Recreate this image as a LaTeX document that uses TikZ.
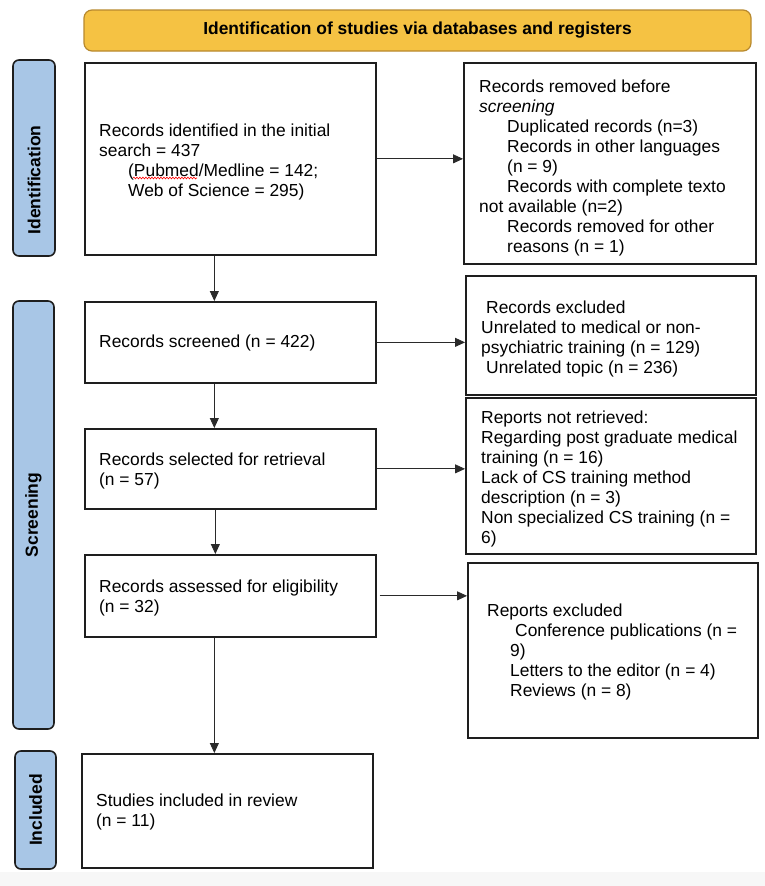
\documentclass[tikz,border=0pt]{standalone}
\usepackage{graphicx}
\usepackage{fontspec}
\setmainfont{Liberation Sans}
\usetikzlibrary{arrows.meta,decorations.pathmorphing}
\definecolor{hdrfill}{HTML}{F5C243}
\definecolor{hdrdraw}{HTML}{B8892E}
\definecolor{sidefill}{HTML}{A8C6E6}
\definecolor{arrowc}{HTML}{2A2A2A}
\definecolor{boxc}{HTML}{1E1E1E}
\tikzset{
  boxnode/.style={draw=boxc, line width=1.7pt, fill=white, inner sep=0pt, anchor=north west},
  sidelabel/.style={draw=boxc, line width=1.6pt, fill=sidefill, rounded corners=6pt, rotate=90, inner sep=0pt,
    font=\bfseries\fontsize{17.5}{20}\selectfont},
  header/.style={draw=hdrdraw, line width=1.2pt, fill=hdrfill, rounded corners=8pt, inner sep=0pt},
  txt/.style={anchor=north west, inner sep=0pt, align=left, font=\fontsize{17.4}{20}\selectfont},
  flow/.style={draw=arrowc, line width=0.8pt, -{Triangle[length=10pt,width=9pt]}}
}
\begin{document}
\begin{tikzpicture}[x=1pt,y=-1pt]
\useasboundingbox (0,0) rectangle (765,886);
\fill[white] (0,0) rectangle (765,886);
\fill[gray!6] (0,872) rectangle (765,886);

% header
\node[header, minimum width=667pt, minimum height=41pt] (hdr) at (417.5,30.5)
  {\bfseries\fontsize{17.4}{20}\selectfont Identification of studies via databases and registers};

% side labels
\node[sidelabel, minimum width=196pt, minimum height=42pt] (lid) at (34,158) {Identification\hspace*{44pt}};
\node[sidelabel, minimum width=428pt, minimum height=41pt] (lsc) at (33.5,515) {Screening};
\node[sidelabel, minimum width=118pt, minimum height=41pt] (lin) at (35.5,810) {Included};

% left boxes
\node[boxnode, minimum width=291pt, minimum height=192pt] (b1) at (84,62) {};
\node[boxnode, minimum width=291pt, minimum height=81pt] (b2) at (84,301) {};
\node[boxnode, minimum width=291pt, minimum height=80pt] (b3) at (84,428) {};
\node[boxnode, minimum width=291pt, minimum height=82pt] (b4) at (84,554) {};
\node[boxnode, minimum width=291pt, minimum height=114pt] (b5) at (81,753) {};

% right boxes
\node[boxnode, minimum width=292pt, minimum height=201pt] (r1) at (463,62) {};
\node[boxnode, minimum width=290pt, minimum height=119pt] (r2) at (465,275) {};
\node[boxnode, minimum width=290pt, minimum height=156pt] (r3) at (465,397) {};
\node[boxnode, minimum width=290pt, minimum height=175pt] (r4) at (467,562) {};

% texts
\node[txt] (t1) at (99,122.2) {\strut Records identified in the initial\\search = 437\\\hspace*{29pt}(Pubmed/Medline = 142;\\\hspace*{29pt}Web of Science = 295)};
\draw[red, line width=0.6pt, decorate, decoration={snake, amplitude=0.9pt, segment length=3pt}] (133,178) -- (197,178);
\node[txt] (t2) at (99,333.2) {\strut Records screened (n = 422)};
\node[txt] (t3) at (99,451.2) {\strut Records selected for retrieval\\(n = 57)};
\node[txt] (t4) at (99,578.2) {\strut Records assessed for eligibility\\(n = 32)};
\node[txt] (t5) at (96,792.2) {\strut Studies included in review\\(n = 11)};

\node[txt] (s1) at (479,78.2) {\strut Records removed before\\\textit{screening}\\
\hspace*{28pt}Duplicated records (n=3)\\
\hspace*{28pt}Records in other languages\\
\hspace*{28pt}(n = 9)\\
\hspace*{28pt}Records with complete texto\\
not available (n=2)\\
\hspace*{28pt}Records removed for other\\
\hspace*{28pt}reasons (n = 1)};
\node[txt] (s2) at (481,299.2) {\strut\hspace*{5pt}Records excluded\\Unrelated to medical or non-\\psychiatric training (n = 129)\\\hspace*{5pt}Unrelated topic (n = 236)};
\node[txt] (s3) at (481,409.2) {\strut Reports not retrieved:\\Regarding post graduate medical\\training (n = 16)\\Lack of CS training method\\description (n = 3)\\Non specialized CS training (n =\\6)};
\node[txt] (s4) at (487,602.2) {\strut Reports excluded\\\hspace*{28pt}Conference publications (n =\\\hspace*{23pt}9)\\\hspace*{23pt}Letters to the editor (n = 4)\\\hspace*{23pt}Reviews (n = 8)};

% arrows
\draw[flow] (b1.east) -- (b1.east -| r1.west);
\draw[flow] (b2.east) -- (b2.east -| r2.west);
\draw[flow] (b3.east) -- (b3.east -| r3.west);
\draw[flow] ([xshift=3pt]b4.east) -- (b4.east -| r4.west);
\draw[flow] ([xshift=-16pt]b1.south) -- ([xshift=-16pt]b1.south |- b2.north);
\draw[flow] ([xshift=-16pt]b2.south) -- ([xshift=-16pt]b2.south |- b3.north);
\draw[flow] ([xshift=-15pt]b3.south) -- ([xshift=-15pt]b3.south |- b4.north);
\draw[flow] ([xshift=-16pt]b4.south) -- ([xshift=-16pt]b4.south |- b5.north);
\end{tikzpicture}
\end{document}
